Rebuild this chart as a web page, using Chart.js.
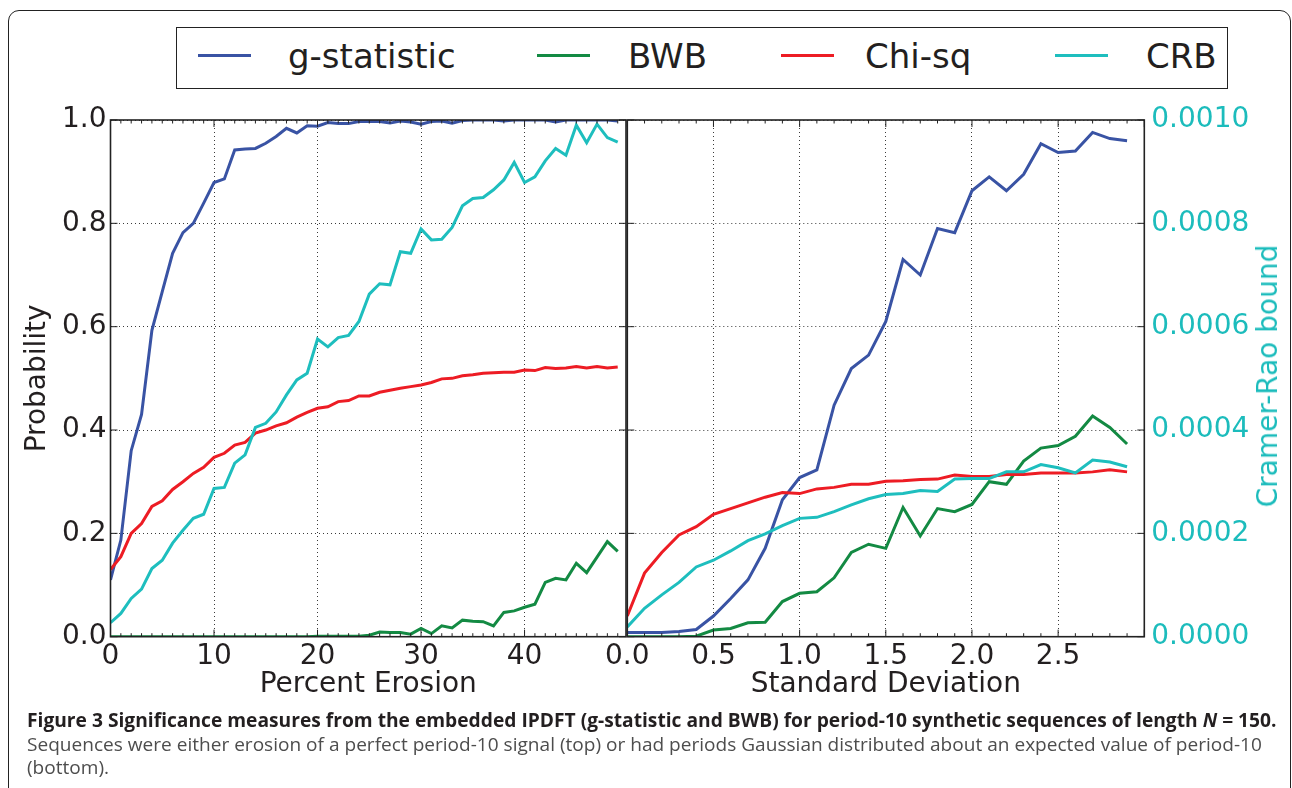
<!DOCTYPE html>
<html>
<head>
<meta charset="utf-8">
<script src="https://cdn.jsdelivr.net/npm/chart.js@4/dist/chart.umd.min.js"></script>
<style>
  html, body { margin: 0; padding: 0; background: #fff; }
  body { width: 1292px; height: 788px; overflow: hidden; position: relative; font-family: 'DejaVu Sans', sans-serif; }
  #frame { position: absolute; left: 8px; top: 10px; width: 1283px; height: 820px; border: 1.5px solid #222; border-radius: 11px; box-sizing: border-box; }
  #legendBox { position: absolute; left: 176px; top: 27px; width: 1052px; height: 62px; border: 1.5px solid #222; box-sizing: border-box; background: #fff; }
  .swatch { position: absolute; top: 53.5px; width: 53px; height: 3px; }
  .lab { position: absolute; top: 39px; font-size: 34px; line-height: 34px; white-space: nowrap; color: #231f20; }
  canvas { position: absolute; top: 0; }
  #c1 { left: 0; }
  #c2 { left: 560px; }
  #crbTitle { position: absolute; left: 1268px; top: 376px; font-size: 28px; line-height: 28px; white-space: nowrap; color: #1cbcbc; transform: translate(-50%, -50%) rotate(-90deg); }
  .cap { position: absolute; left: 27px; white-space: nowrap; transform-origin: 0 0; font-family: 'Open Sans', sans-serif; font-size: 19px; line-height: 24px; }
  #cap1 { top: 708px; font-weight: bold; color: #231f20; }
  #cap2 { top: 732px; color: #4d4d4d; }
  #cap3 { top: 755px; color: #4d4d4d; }
</style>
</head>
<body>
<div id="frame"></div>
<canvas id="c1" width="640" height="720"></canvas>
<canvas id="c2" width="732" height="720"></canvas>
<div id="legendBox"></div>
<div id="legendItems"></div>
<div id="crbTitle">Cramer-Rao bound</div>
<div class="cap" id="cap1">Figure 3 Significance measures from the embedded IPDFT (g-statistic and BWB) for period-10 synthetic sequences of length <i>N</i> = 150.</div>
<div class="cap" id="cap2">Sequences were either erosion of a perfect period-10 signal (top) or had periods Gaussian distributed about an expected value of period-10</div>
<div class="cap" id="cap3">(bottom).</div>
<script>
// ---------------- DATA ----------------
const seriesNames = ['g-statistic', 'BWB', 'Chi-sq', 'CRB'];

// Left panel: Percent Erosion
const erosion = [0,1,2,3,4,5,6,7,8,9,10,11,12,13,14,15,16,17,18,19,20,21,22,23,24,25,26,27,28,29,30,31,32,33,34,35,36,37,38,39,40,41,42,43,44,45,46,47,48,49];
const erosionG = [0.110,0.187,0.360,0.430,0.593,0.668,0.742,0.782,0.800,0.839,0.879,0.886,0.942,0.944,0.945,0.955,0.968,0.984,0.975,0.989,0.988,0.995,0.993,0.993,0.997,0.997,0.997,0.994,0.998,0.996,0.992,0.997,0.998,0.994,0.999,1.000,1.000,1.000,0.998,1.000,1.000,1.000,1.000,0.996,1.000,1.000,1.000,1.000,1.000,0.998];
const erosionBWB = [0,0,0,0,0,0,0,0,0,0,0,0,0,0,0,0,0,0,0,0,0.001,0.001,0.001,0.001,0.001,0.003,0.009,0.008,0.008,0.005,0.016,0.006,0.021,0.017,0.032,0.030,0.029,0.021,0.047,0.050,0.057,0.063,0.105,0.113,0.110,0.142,0.124,0.154,0.184,0.165];
const erosionChi = [0.130,0.155,0.200,0.219,0.252,0.263,0.285,0.300,0.316,0.328,0.347,0.355,0.371,0.376,0.394,0.400,0.408,0.414,0.425,0.434,0.442,0.445,0.455,0.457,0.466,0.466,0.473,0.477,0.481,0.484,0.487,0.492,0.499,0.500,0.505,0.507,0.510,0.511,0.512,0.512,0.516,0.515,0.521,0.519,0.520,0.523,0.520,0.523,0.520,0.522];
const erosionCRB = [0.000027,0.000045,0.000074,0.000092,0.000132,0.000148,0.000181,0.000206,0.000229,0.000237,0.000287,0.000289,0.000336,0.000352,0.000405,0.000413,0.000435,0.000468,0.000497,0.000510,0.000576,0.000561,0.000579,0.000583,0.000610,0.000663,0.000683,0.000681,0.000745,0.000742,0.000789,0.000768,0.000769,0.000792,0.000834,0.000848,0.000850,0.000865,0.000884,0.000918,0.000879,0.000890,0.000921,0.000945,0.000932,0.000990,0.000956,0.000992,0.000966,0.000957];

// Right panel: Standard Deviation
const stdDev = [0.0,0.1,0.2,0.3,0.4,0.5,0.6,0.7,0.8,0.9,1.0,1.1,1.2,1.3,1.4,1.5,1.6,1.7,1.8,1.9,2.0,2.1,2.2,2.3,2.4,2.5,2.6,2.7,2.8,2.9];
const stdG = [0.008,0.008,0.008,0.010,0.014,0.040,0.074,0.110,0.171,0.265,0.308,0.323,0.448,0.519,0.545,0.610,0.730,0.700,0.790,0.782,0.863,0.890,0.863,0.895,0.954,0.937,0.940,0.976,0.964,0.960];
const stdBWB = [0,0,0,0,0.001,0.013,0.016,0.027,0.028,0.068,0.084,0.087,0.114,0.163,0.179,0.171,0.250,0.195,0.248,0.242,0.256,0.300,0.295,0.340,0.365,0.370,0.388,0.427,0.405,0.373];
const stdChi = [0.040,0.123,0.163,0.197,0.213,0.237,0.248,0.259,0.270,0.279,0.277,0.286,0.289,0.295,0.295,0.301,0.302,0.304,0.305,0.313,0.310,0.310,0.314,0.314,0.317,0.317,0.317,0.319,0.323,0.319];
const stdCRB = [0.000019,0.000055,0.000081,0.000105,0.000135,0.000148,0.000166,0.000186,0.000199,0.000215,0.000229,0.000231,0.000242,0.000255,0.000267,0.000275,0.000277,0.000283,0.000281,0.000305,0.000306,0.000306,0.000319,0.000319,0.000333,0.000327,0.000317,0.000342,0.000338,0.000329];

// Tick labels
const probTicks = ['0.0','0.2','0.4','0.6','0.8','1.0'];
const crbTicks = ['0.0000','0.0002','0.0004','0.0006','0.0008','0.0010'];
const erosionTickLabels = ['0','10','20','30','40'];
const stdTickLabels = ['0.0','0.5','1.0','1.5','2.0','2.5'];

// ---------------- STYLE ----------------
const colors = ['#3953a4', '#138a43', '#ed1c24', '#1ebebe'];
const crbColor = '#1cbcbc';
const textColor = '#231f20';
const tickFont = { family: 'DejaVu Sans', size: 28 };

// HTML legend
(function buildLegend() {
  const swatchX = [198, 537, 781, 1055];
  const textX = [288, 628, 865, 1146];
  const holder = document.getElementById('legendItems');
  seriesNames.forEach((name, i) => {
    const s = document.createElement('div');
    s.className = 'swatch'; s.style.left = swatchX[i] + 'px'; s.style.background = colors[i];
    holder.appendChild(s);
    const t = document.createElement('div');
    t.className = 'lab'; t.style.left = textX[i] + 'px'; t.textContent = name;
    holder.appendChild(t);
  });
})();

function pts(xs, ys) { return xs.map((x, i) => ({ x: x, y: ys[i] })); }

function makeDatasets(xs, g, bwb, chi, crb) {
  const arr = [g, bwb, chi, crb];
  return arr.map((ys, i) => ({
    label: seriesNames[i],
    data: pts(xs, ys),
    borderColor: colors[i],
    backgroundColor: colors[i],
    borderWidth: 3,
    pointRadius: 0,
    tension: 0,
    yAxisID: i === 3 ? 'y1' : 'y',
    order: [3, 2, 1, 0][i]
  }));
}

// Frame + inward ticks plugin
const framePlugin = {
  id: 'frameTicks',
  afterDatasetsDraw(chart, args, opts) {
    const { ctx, chartArea: a } = chart;
    const xs = chart.scales.x;
    const ys = chart.scales[opts.yId];
    ctx.save();
    ctx.strokeStyle = '#222';
    ctx.lineWidth = 1;
    const seg = (x1, y1, x2, y2) => { ctx.beginPath(); ctx.moveTo(x1, y1); ctx.lineTo(x2, y2); ctx.stroke(); };
    xs.ticks.forEach(t => {
      const px = xs.getPixelForValue(t.value);
      if (px < a.left - 0.5 || px > a.right + 0.5) return;
      const L = opts.isMajorX(t.value) ? 7 : 3.5;
      seg(px, a.bottom, px, a.bottom - L);
      seg(px, a.top, px, a.top + L);
    });
    ys.ticks.forEach(t => {
      const py = ys.getPixelForValue(t.value);
      seg(a.left, py, a.left + 7, py);
      seg(a.right, py, a.right - 7, py);
    });
    ctx.lineWidth = 1.6;
    ctx.strokeRect(a.left, a.top, a.right - a.left, a.bottom - a.top);
    ctx.restore();
  }
};

const gridDotted = { color: ctx => '#3a3a3a', lineWidth: 1, drawTicks: false };

const PLOT_TOP = 120, PLOT_BOTTOM = 636.7, CANVAS_H = 720;

function xAxis(min, max, step, isMajor, labelFor, title) {
  return {
    type: 'linear', position: 'bottom', min: min, max: max,
    afterFit: s => { s.height = CANVAS_H - PLOT_BOTTOM; },
    ticks: {
      stepSize: step, autoSkip: false, includeBounds: false, maxRotation: 0, minRotation: 0,
      padding: 3, color: textColor, font: tickFont,
      callback: v => isMajor(v) ? labelFor(v) : ''
    },
    grid: { drawTicks: false, lineWidth: 1, color: c => (c.tick && isMajor(c.tick.value)) ? '#3a3a3a' : 'rgba(0,0,0,0)' },
    border: { display: false, dash: [1, 3] },
    title: { display: true, text: title, color: textColor, font: tickFont, padding: { top: 0, bottom: 18 } }
  };
}

// ---------------- LEFT CHART ----------------
const isMajorE = v => Math.abs(v % 10) < 1e-6;
const leftChart = new Chart(document.getElementById('c1'), {
  type: 'line',
  data: { datasets: makeDatasets(erosion, erosionG, erosionBWB, erosionChi, erosionCRB) },
  options: {
    responsive: false, animation: false, devicePixelRatio: 1,
    layout: { padding: { left: 0, top: PLOT_TOP, right: 14, bottom: 0 } },
    plugins: { legend: { display: false }, tooltip: { enabled: false }, frameTicks: { yId: 'y', isMajorX: isMajorE } },
    scales: {
      x: xAxis(0, 49.8, 1, isMajorE, v => erosionTickLabels[Math.round(v / 10)], 'Percent Erosion'),
      y: {
        type: 'linear', position: 'left', min: 0, max: 1,
        afterFit: s => { s.width = 110.5; },
        ticks: { stepSize: 0.2, padding: 4, color: textColor, font: tickFont, callback: (v) => probTicks[Math.round(v * 5)] },
        grid: { drawTicks: false, lineWidth: 1, color: '#3a3a3a' },
        border: { display: false, dash: [1, 3] },
        title: { display: true, text: 'Probability', color: textColor, font: tickFont, padding: { top: 21, bottom: 0 } }
      },
      y1: { type: 'linear', position: 'right', min: 0, max: 0.001, display: false }
    }
  },
  plugins: [framePlugin]
});

// ---------------- RIGHT CHART ----------------
const isMajorS = v => { const k = Math.round(v * 10); return Math.abs(v * 10 - k) < 1e-6 && k % 5 === 0 && k < 30; };
const isMajorSTick = v => { const k = Math.round(v * 10); return k % 5 === 0; };
const rightChart = new Chart(document.getElementById('c2'), {
  type: 'line',
  data: { datasets: makeDatasets(stdDev, stdG, stdBWB, stdChi, stdCRB) },
  options: {
    responsive: false, animation: false, devicePixelRatio: 1,
    layout: { padding: { left: 67.3, top: PLOT_TOP, right: 0, bottom: 0 } },
    plugins: { legend: { display: false }, tooltip: { enabled: false }, frameTicks: { yId: 'y1', isMajorX: isMajorSTick } },
    scales: {
      x: xAxis(0, 3.0, 0.1, isMajorS, v => stdTickLabels[Math.round(v * 2)], 'Standard Deviation'),
      y: { type: 'linear', position: 'left', min: 0, max: 1, display: false },
      y1: {
        type: 'linear', position: 'right', min: 0, max: 0.001,
        afterFit: s => { s.width = 147.7; },
        ticks: { stepSize: 0.0002, padding: 7, color: crbColor, font: tickFont, callback: v => crbTicks[Math.round(v * 5000)] },
        grid: { drawTicks: false, lineWidth: 1, color: '#3a3a3a' },
        border: { display: false, dash: [1, 3] }
      }
    }
  },
  plugins: [framePlugin]
});

// ---------------- CAPTION FIT ----------------
function fitCaption() {
  const c1 = document.getElementById('cap1'), c2 = document.getElementById('cap2'), c3 = document.getElementById('cap3');
  const s1 = (1277 - 27) / c1.offsetWidth;
  const s2 = (1262 - 27) / c2.offsetWidth;
  c1.style.transform = 'scaleX(' + s1 + ')';
  c2.style.transform = 'scaleX(' + s2 + ')';
  c3.style.transform = 'scaleX(' + s2 + ')';
}
fitCaption();
if (document.fonts && document.fonts.ready) document.fonts.ready.then(fitCaption);
</script>
</body>
</html>
